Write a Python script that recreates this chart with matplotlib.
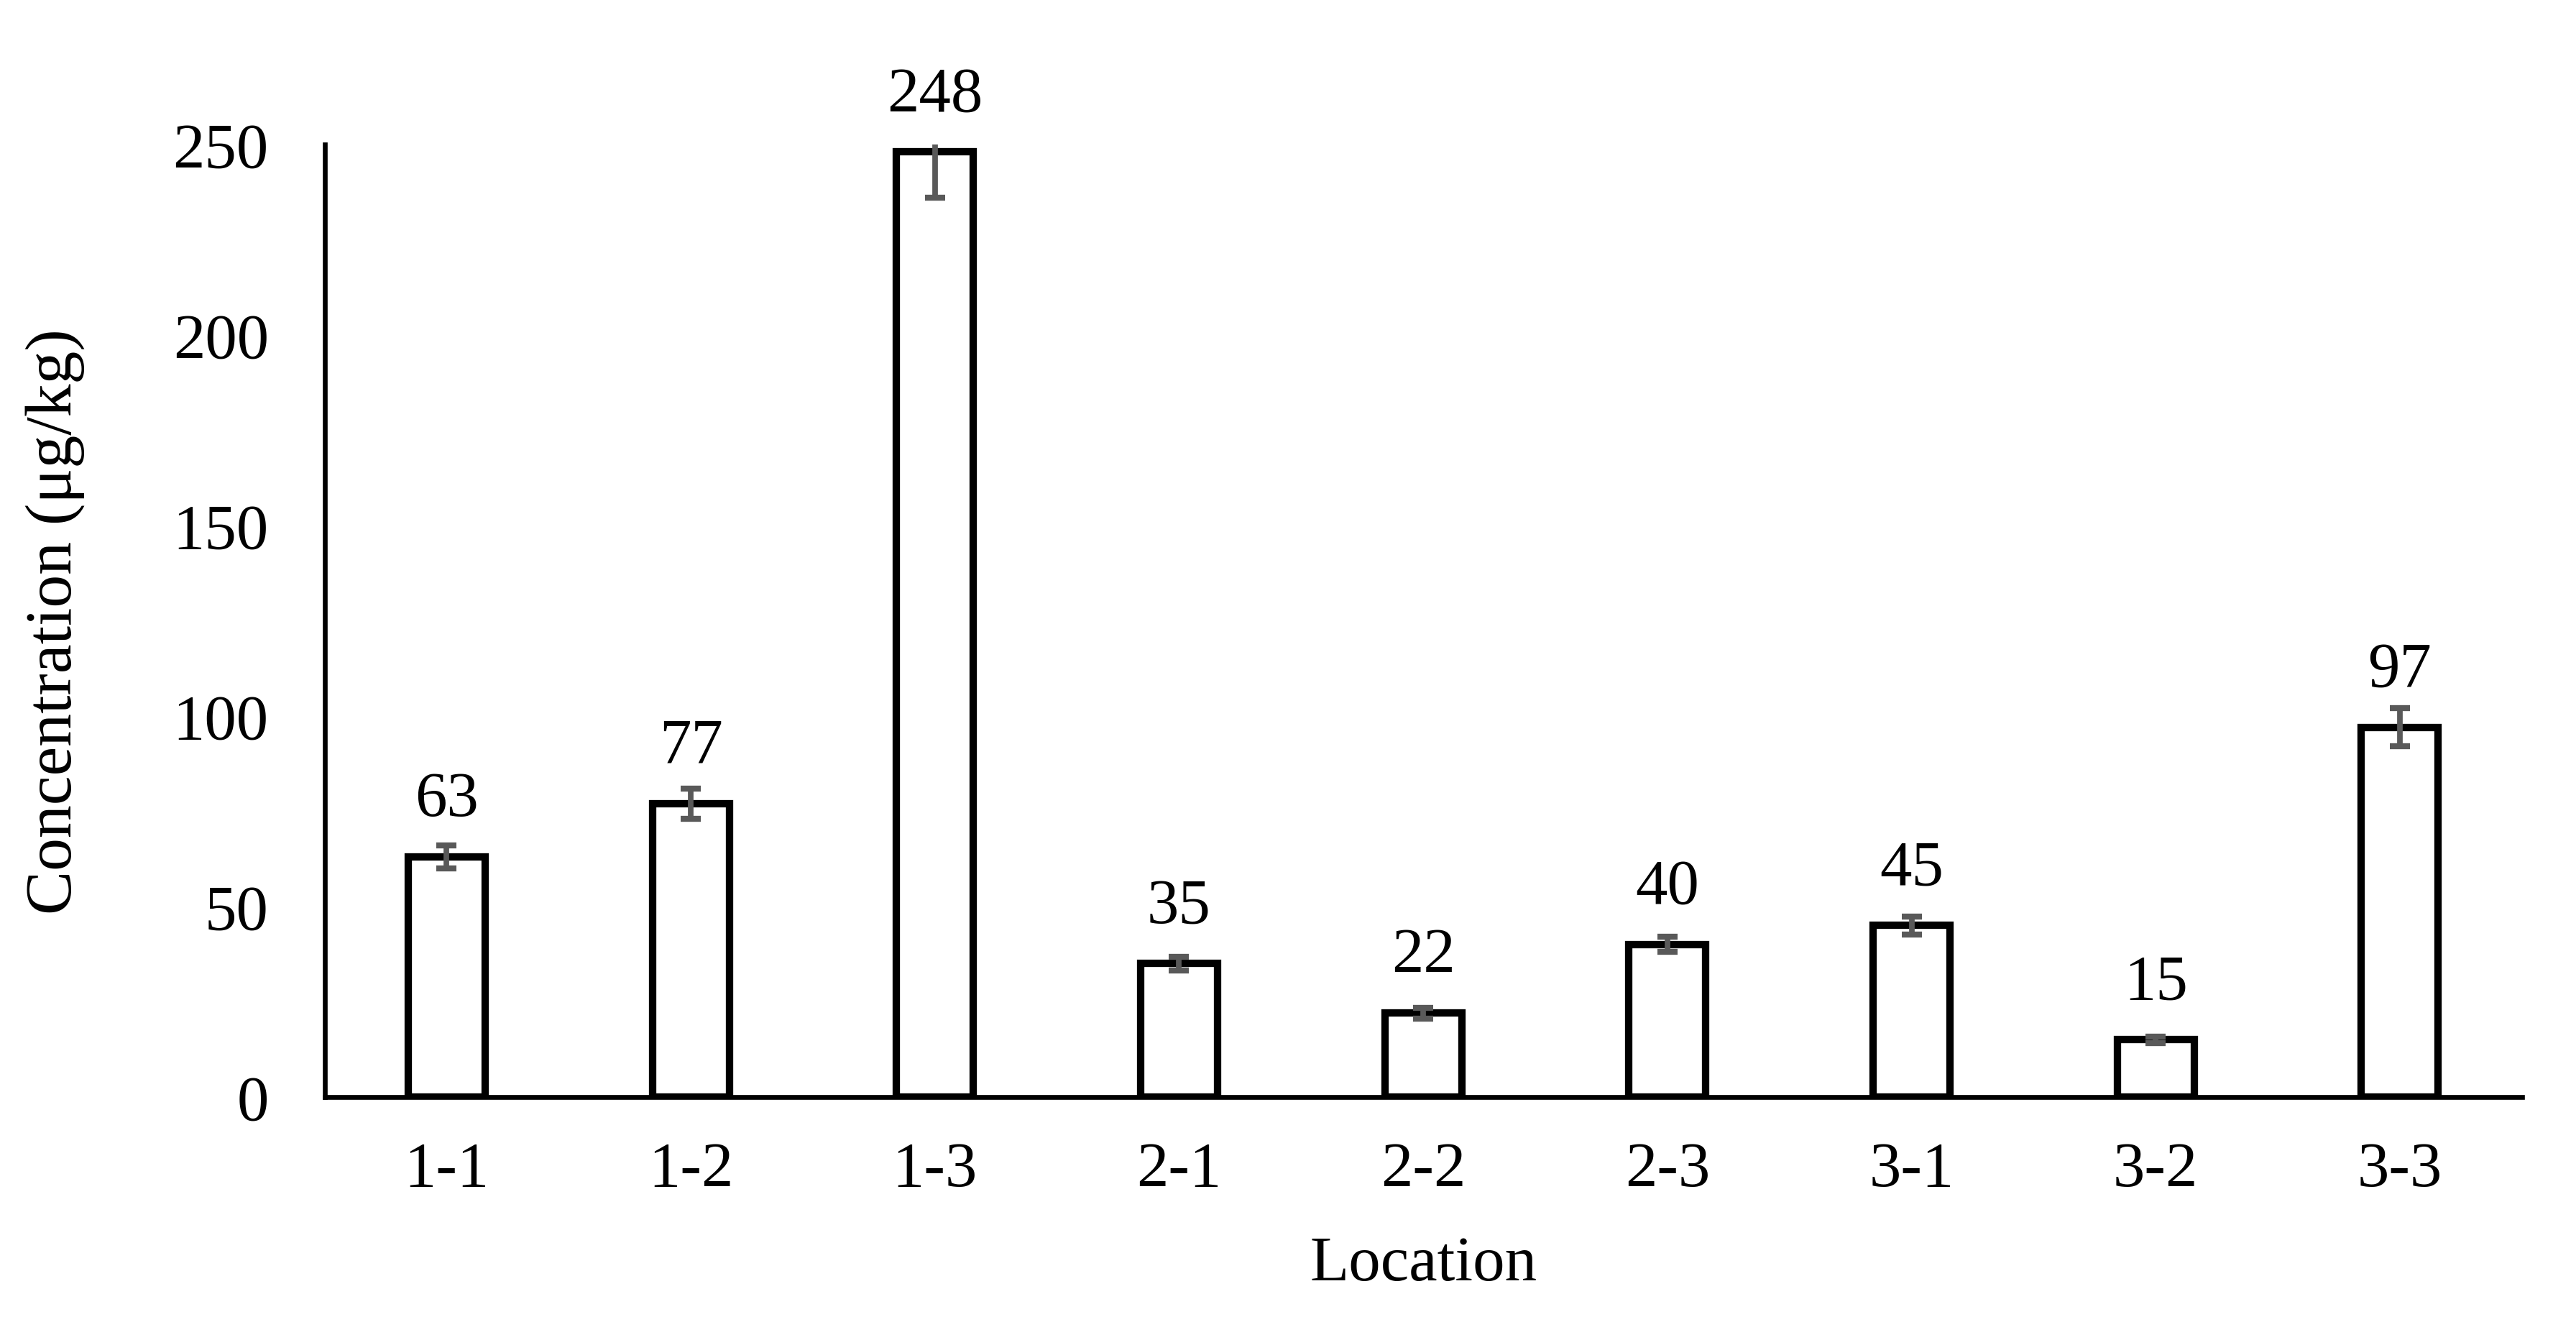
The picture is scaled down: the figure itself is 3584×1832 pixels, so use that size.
import matplotlib
matplotlib.use("Agg")
import matplotlib.pyplot as plt
import numpy as np

plt.rcParams['font.family'] = ['Liberation Serif', 'DejaVu Serif']

# datos
ubicaciones = ["1-1", "1-2", "1-3", "2-1", "2-2", "2-3", "3-1", "3-2", "3-3"]
concentracion = [63, 77, 248, 35, 22, 40, 45, 15, 97]
error = [3, 4, 12, 1.8, 1.4, 2, 2.4, 0.8, 5]
ticks_y = [0, 50, 100, 150, 200, 250]

fig = plt.figure(figsize=(17.92, 9.165), dpi=200)
ax = fig.add_axes([0.126, 0.167, 0.853, 0.723])

x = np.arange(len(ubicaciones))
ax.bar(x, concentracion, width=0.315, color="white", edgecolor="black",
       linewidth=3.7, joinstyle="miter", zorder=2)
ax.errorbar(x, concentracion, yerr=error, fmt="none", ecolor="#595959",
            elinewidth=2.8, capsize=5.2, capthick=3.0, zorder=3)

for xi, v in zip(x, concentracion):
    ax.annotate(f"{v}", (xi, v), xytext=(0, 14), textcoords="offset points",
                ha="center", va="bottom", fontsize=32)

ax.set_xlim(-0.5, len(ubicaciones) - 0.5)
ax.set_ylim(0, 250)
ax.set_yticks(ticks_y)
ax.set_xticks(x)
ax.set_xticklabels(ubicaciones)
ax.tick_params(axis="both", length=0, labelsize=32)
ax.tick_params(axis="x", pad=22)
ax.tick_params(axis="y", pad=28)

for s in ["top", "right"]:
    ax.spines[s].set_visible(False)
for s in ["left", "bottom"]:
    ax.spines[s].set_linewidth(2.4)
    ax.spines[s].set_color("black")
    ax.spines[s].set_zorder(4)

ax.set_xlabel("Location", fontsize=32, labelpad=18)
ax.set_ylabel("Concentration (μg/kg)", fontsize=33, labelpad=44)

fig.savefig("out.png", dpi=200, facecolor="white")
